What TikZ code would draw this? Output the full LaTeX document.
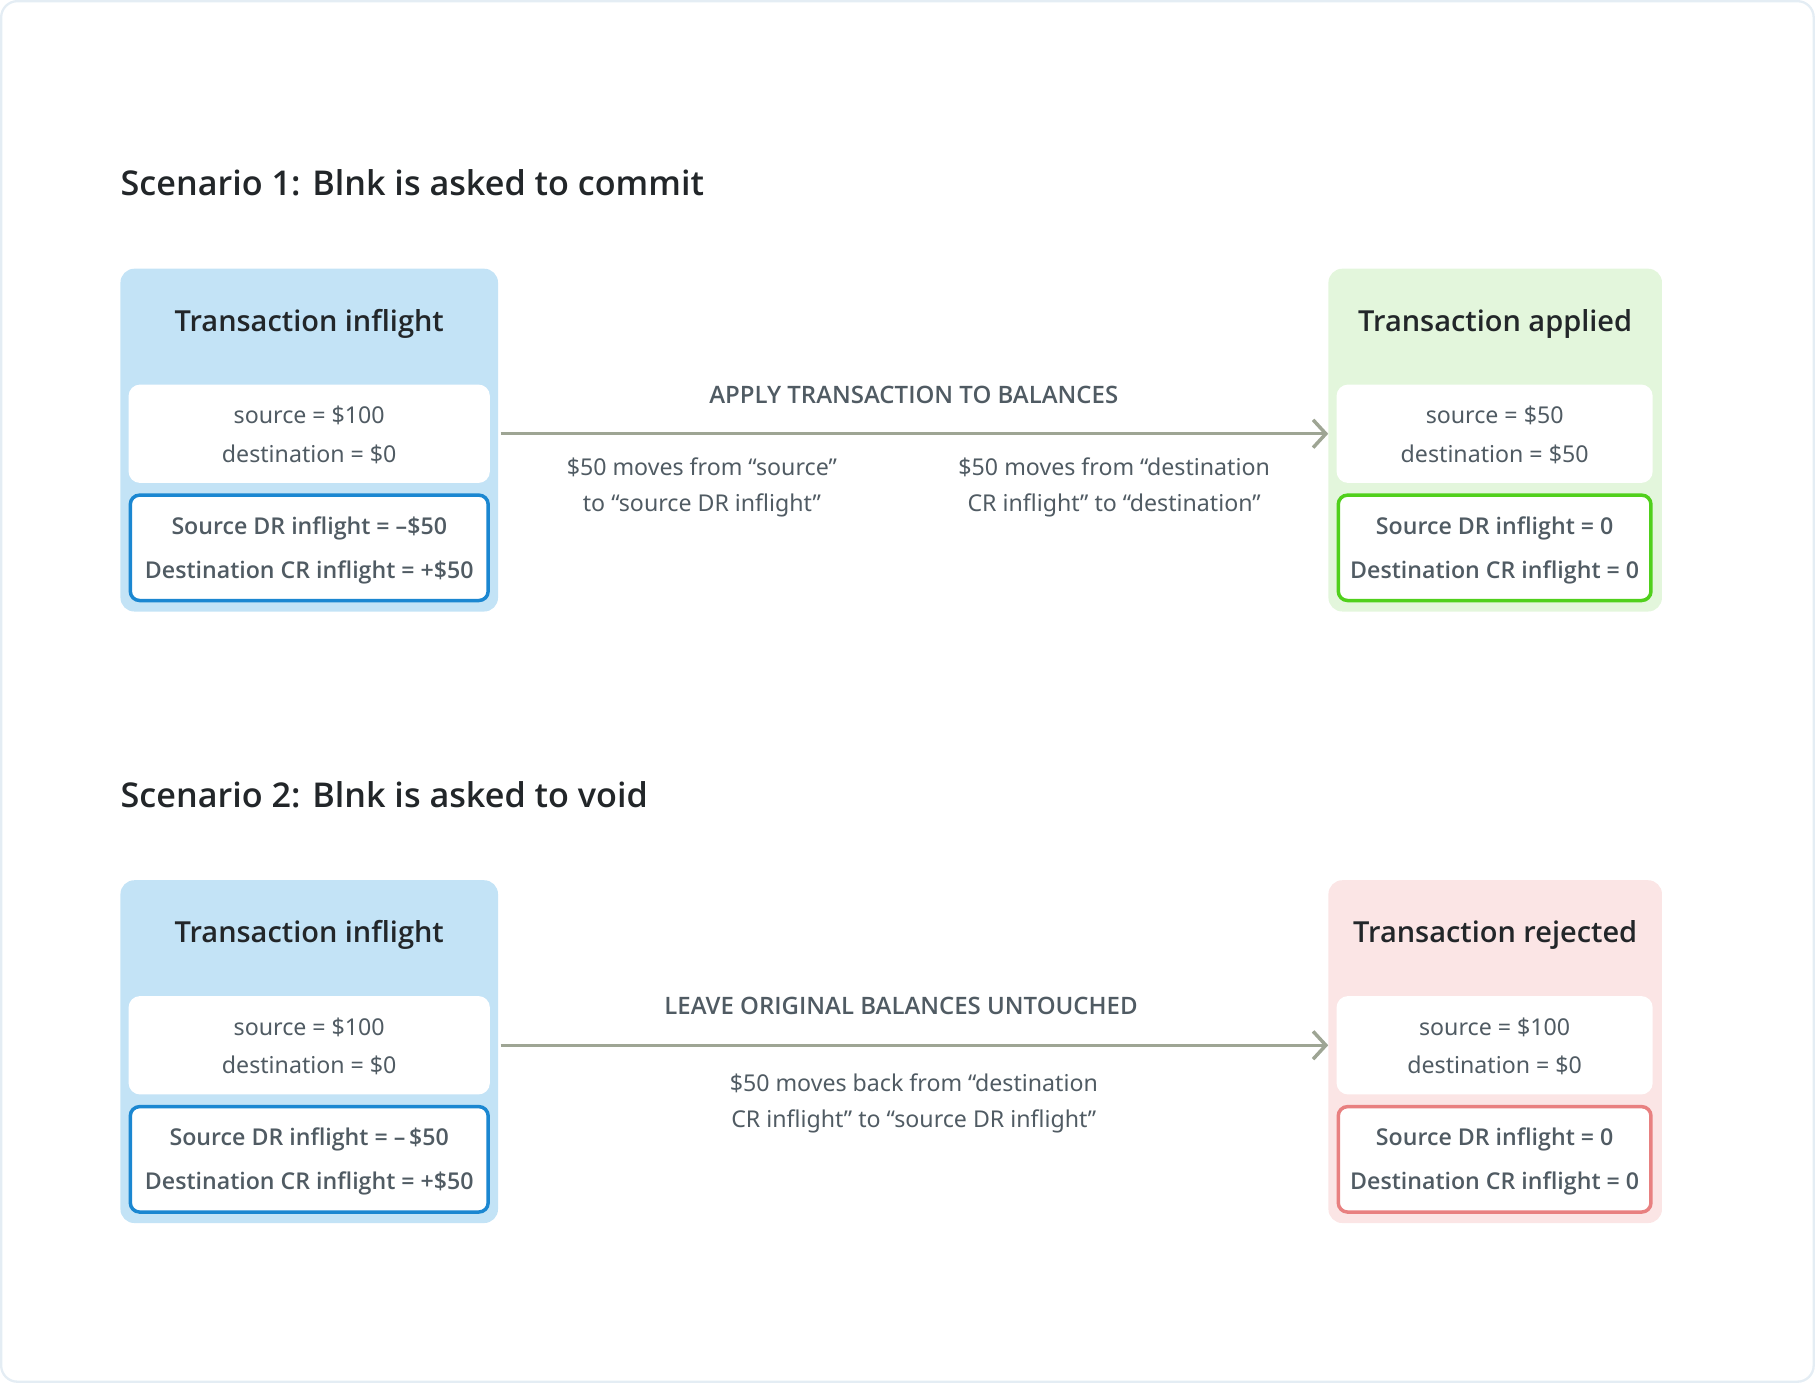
\documentclass[tikz,border=0pt]{standalone}
\usepackage{fontspec}
\setmainfont{Noto Sans}
\IfFontExistsTF{Noto Sans SemiBold}{\newfontfamily\semifont{Noto Sans SemiBold}}{%
 \IfFontExistsTF{Open Sans SemiBold}{\newfontfamily\semifont{Open Sans SemiBold}}{%
  \IfFontExistsTF{Open Sans Semibold}{\newfontfamily\semifont{Open Sans Semibold}}{%
   \IfFontExistsTF{Noto Sans Bold}{\newfontfamily\semifont{Noto Sans Bold}}{%
    \newfontfamily\semifont{Liberation Sans Bold}}}}}
\IfFontExistsTF{Noto Sans Medium}{\newfontfamily\medfont{Noto Sans Medium}}{%
 \IfFontExistsTF{Open Sans Medium}{\newfontfamily\medfont{Open Sans Medium}}{%
  \IfFontExistsTF{Open Sans SemiBold}{\newfontfamily\medfont{Open Sans SemiBold}}{%
   \IfFontExistsTF{Open Sans Semibold}{\newfontfamily\medfont{Open Sans Semibold}}{%
    \newfontfamily\medfont{Noto Sans}}}}}
\usetikzlibrary{arrows.meta}
\definecolor{framecol}{HTML}{E4EDF4}
\definecolor{bluefill}{HTML}{C3E3F6}
\definecolor{blueline}{HTML}{1B87D1}
\definecolor{greenfill}{HTML}{E3F6DC}
\definecolor{greenline}{HTML}{50D01C}
\definecolor{redfill}{HTML}{FBE5E5}
\definecolor{redline}{HTML}{E88080}
\definecolor{arrowcol}{HTML}{9EA594}
\definecolor{titletxt}{HTML}{222629}
\definecolor{bodytxt}{HTML}{505B63}
\tikzset{
  panel/.style={rounded corners=12pt, inner sep=0pt, minimum height=296pt},
  balbox/.style={fill=white, rounded corners=10pt, inner sep=0pt, minimum height=85pt, align=center,
    font=\fontsize{20}{33}\selectfont, text=bodytxt},
  flightbox/.style={fill=white, line width=3pt, rounded corners=8pt, inner sep=0pt, minimum height=91pt, align=center,
    font=\medfont\fontsize{20}{38}\selectfont, text=bodytxt},
  paneltitle/.style={font=\semifont\fontsize{25}{30}\selectfont, text=titletxt, anchor=base, inner sep=0pt},
  scentitle/.style={font=\semifont\fontsize{29.5}{36}\selectfont, text=titletxt, anchor=base west, inner sep=0pt},
  steplabel/.style={font=\medfont\fontsize{20.7}{24}\selectfont, text=bodytxt, anchor=base, inner sep=0pt},
  note/.style={font=\fontsize{20}{31}\selectfont, text=bodytxt, align=center, inner sep=0pt},
  flow/.style={draw=arrowcol, line width=3pt, shorten <=2pt, -{Straight Barb[length=11pt,width=24pt]}}
}
\begin{document}
\begin{tikzpicture}[x=1pt,y=-1pt]
\useasboundingbox (0,0) rectangle (1568,1195);
\draw[framecol, line width=2pt, rounded corners=14pt] (1,1) rectangle (1566,1193);

% ---------- Scenario 1 ----------
\node[scentitle] (s1) at (104,169) {Scenario 1: Blnk is asked to commit};

\node[panel, fill=bluefill, minimum width=326pt] (p1) at (267,380) {};
\node[paneltitle] (p1t) at (267,286) {Transaction inflight};
\node[balbox, minimum width=312pt] (p1b) at (267,374.5) {};
\node[balbox, fill=none] (p1bt) at (267,375.5) {source = \$100\\destination = \$0};
\node[flightbox, draw=blueline, minimum width=309pt] (p1f) at (267,473) {};
\node[flightbox, draw=none, fill=none] (p1ft) at (267,475) {Source DR inflight = –\$50\\Destination CR inflight = +\$50};

\node[panel, fill=greenfill, minimum width=288pt] (q1) at (1291,380) {};
\node[paneltitle] (q1t) at (1291,286) {Transaction applied};
\node[balbox, minimum width=273pt] (q1b) at (1290.5,374.5) {};
\node[balbox, fill=none] (q1bt) at (1290.5,375.5) {source = \$50\\destination = \$50};
\node[flightbox, draw=greenline, minimum width=270pt] (q1f) at (1290.5,473) {};
\node[flightbox, draw=none, fill=none] (q1ft) at (1290.5,475) {Source DR inflight = 0\\Destination CR inflight = 0};

\draw[flow] (p1.east |- p1b.center) -- (q1.west |- p1b.center);
\node[steplabel] (l1) at (789,348) {APPLY TRANSACTION TO BALANCES};
\node[note] (n1a) at (606,421) {\$50 moves from “source”\\to “source DR inflight”};
\node[note] (n1b) at (962,421) {\$50 moves from “destination\\CR inflight” to “destination”};

% ---------- Scenario 2 ----------
\node[scentitle] (s2) at (104,697) {Scenario 2: Blnk is asked to void};

\node[panel, fill=bluefill, minimum width=326pt] (p2) at (267,908) {};
\node[paneltitle] (p2t) at (267,814) {Transaction inflight};
\node[balbox, minimum width=312pt] (p2b) at (267,902.5) {};
\node[balbox, fill=none] (p2bt) at (267,903.5) {source = \$100\\destination = \$0};
\node[flightbox, draw=blueline, minimum width=309pt] (p2f) at (267,1001) {};
\node[flightbox, draw=none, fill=none] (p2ft) at (267,1003) {Source DR inflight = –\,\$50\\Destination CR inflight = +\$50};

\node[panel, fill=redfill, minimum width=288pt] (q2) at (1291,908) {};
\node[paneltitle] (q2t) at (1291,814) {Transaction rejected};
\node[balbox, minimum width=273pt] (q2b) at (1290.5,902.5) {};
\node[balbox, fill=none] (q2bt) at (1290.5,903.5) {source = \$100\\destination = \$0};
\node[flightbox, draw=redline, minimum width=270pt] (q2f) at (1290.5,1001) {};
\node[flightbox, draw=none, fill=none] (q2ft) at (1290.5,1003) {Source DR inflight = 0\\Destination CR inflight = 0};

\draw[flow] (p2.east |- p2b.center) -- (q2.west |- p2b.center);
\node[steplabel] (l2) at (778,876) {LEAVE ORIGINAL BALANCES UNTOUCHED};
\node[note] (n2) at (789,953) {\$50 moves back from “destination\\CR inflight” to “source DR inflight”};
\end{tikzpicture}
\end{document}
